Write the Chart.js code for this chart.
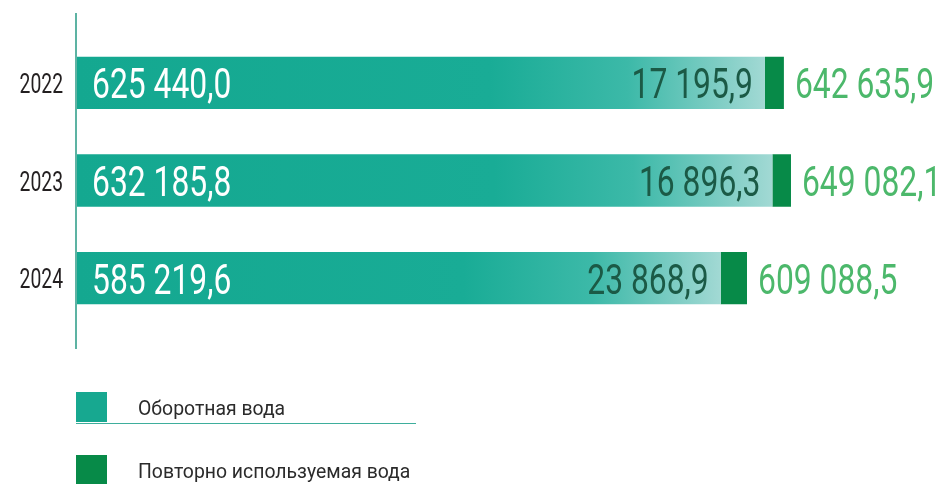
<!DOCTYPE html>
<html lang="ru">
<head>
<meta charset="utf-8">
<title>Оборотная и повторно используемая вода</title>
<script src="https://cdn.jsdelivr.net/npm/chart.js@4/dist/chart.umd.min.js"></script>
<style>
  html, body { margin: 0; padding: 0; background: #fff; }
  #wrap { width: 942px; height: 484px; position: relative; }
</style>
</head>
<body>
<div id="wrap"><canvas id="waterChart" width="942" height="484"></canvas></div>
<script>
const years = ["2022", "2023", "2024"];
const recycled = [625440.0, 632185.8, 585219.6];
const reused = [17195.9, 16896.3, 23868.9];
const seriesNames = ["Оборотная вода", "Повторно используемая вода"];

const TEAL = "#17a890";
const GREEN = "#078a48";
const FONT = "Roboto, sans-serif";

// 625440 -> "625 440,0"
function fmt(v) {
  const [int, dec] = v.toFixed(1).split(".");
  return int.replace(/\B(?=(\d{3})+(?!\d))/g, " ") + "," + dec;
}

// condensed text: draw with a horizontal squeeze
function squeezed(ctx, text, x, y, align, sx) {
  ctx.save();
  ctx.translate(x, y);
  ctx.scale(sx, 1);
  ctx.textAlign = align;
  ctx.fillText(text, 0, 0);
  ctx.restore();
}

// water-like fill: solid teal fading to pale aqua at the bar end
function tealFill(context) {
  const chart = context.chart;
  const area = chart.chartArea;
  if (!area) return TEAL;
  const xs = chart.scales.x;
  const x0 = xs.getPixelForValue(0);
  const x1 = xs.getPixelForValue(recycled[context.dataIndex] || 0);
  const g = chart.ctx.createLinearGradient(x0, 0, x1, 0);
  g.addColorStop(0, "#14a890");
  g.addColorStop(0.6, "#19ac96");
  g.addColorStop(0.8, "#3cb9a8");
  g.addColorStop(0.93, "#7ecdc4");
  g.addColorStop(1, "#a2d9d4");
  return g;
}

const decor = {
  id: "decor",
  afterDatasetsDraw(chart) {
    const { ctx, chartArea: a, scales: { x, y } } = chart;
    ctx.save();

    // vertical axis line
    ctx.fillStyle = "#5db3a3";
    ctx.fillRect(a.left - 2, a.top - 21, 2, a.bottom - a.top + 43);

    years.forEach((yr, i) => {
      const cy = y.getPixelForValue(i);
      const base = recycled[i];
      const total = base + reused[i];

      ctx.textBaseline = "alphabetic";

      // year label
      ctx.font = "28px " + FONT;
      ctx.fillStyle = "#231f20";
      squeezed(ctx, yr, a.left - 14, cy + 10, "right", 0.69);

      ctx.font = "43px " + FONT;
      // recycled value, inside bar start
      ctx.fillStyle = "#ffffff";
      squeezed(ctx, fmt(base), x.getPixelForValue(0) + 15, cy + 15.5, "left", 0.74);

      // reused value, inside bar end
      ctx.fillStyle = "#1b5a46";
      squeezed(ctx, fmt(reused[i]), x.getPixelForValue(base) - 12, cy + 15.5, "right", 0.74);

      // total, after the bar
      ctx.fillStyle = "#4cb86b";
      squeezed(ctx, fmt(total), x.getPixelForValue(total) + 11, cy + 15.5, "left", 0.74);
    });

    // legend
    const lx = a.left - 1;
    const items = [
      { name: seriesNames[0], color: TEAL, top: 392 },
      { name: seriesNames[1], color: GREEN, top: 455 }
    ];
    ctx.font = "20px " + FONT;
    items.forEach(it => {
      ctx.fillStyle = it.color;
      ctx.fillRect(lx, it.top, 31, 30);
      ctx.fillStyle = "#2b2b2b";
      squeezed(ctx, it.name, 138, it.top + 23, "left", 0.97);
    });
    ctx.fillStyle = "#3eae9c";
    ctx.fillRect(lx, 423, 340, 1);

    ctx.restore();
  }
};

new Chart(document.getElementById("waterChart"), {
  type: "bar",
  data: {
    labels: years,
    datasets: [
      {
        label: seriesNames[0],
        data: recycled,
        backgroundColor: tealFill,
        borderWidth: 0,
        barPercentage: 0.535,
        categoryPercentage: 1
      },
      {
        label: seriesNames[1],
        data: reused,
        backgroundColor: GREEN,
        borderWidth: 0,
        barPercentage: 0.535,
        categoryPercentage: 1
      }
    ]
  },
  options: {
    indexAxis: "y",
    responsive: false,
    animation: false,
    layout: { padding: { top: 34, bottom: 157, left: 77, right: 7 } },
    scales: {
      x: { stacked: true, min: 0, max: 780000, display: false },
      y: { stacked: true, display: false }
    },
    plugins: {
      legend: { display: false },
      tooltip: { enabled: false }
    }
  },
  plugins: [decor]
});
</script>
</body>
</html>
